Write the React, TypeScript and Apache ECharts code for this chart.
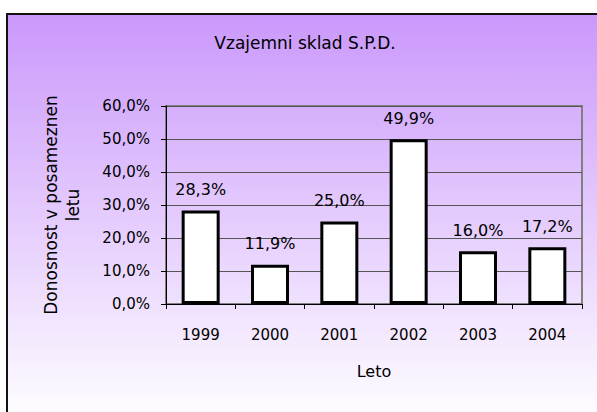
import React, { useEffect, useRef } from "react";
import * as echarts from "echarts";

const categories = ["1999", "2000", "2001", "2002", "2003", "2004"];
const returns = [0.283, 0.119, 0.25, 0.499, 0.16, 0.172];
const titleText = "Vzajemni sklad S.P.D.";
const yAxisName = "Donosnost v posameznen\nletu";
const xAxisName = "Leto";

const pct = (v: number) => (v * 100).toFixed(1).replace(".", ",") + "%";

export default function App() {
  const ref = useRef<HTMLDivElement>(null);
  useEffect(() => {
    if (!ref.current) return;
    const chart = echarts.init(ref.current, null, { renderer: "svg" });
    const font = "DejaVu Sans";
    chart.setOption({
      animation: false,
      textStyle: { fontFamily: font },
      graphic: [
        {
          type: "rect",
          z: -10,
          silent: true,
          shape: { x: 7, y: 14, width: 600, height: 410 },
          style: {
            fill: new echarts.graphic.LinearGradient(0, 0, 0, 1, [
              { offset: 0, color: "#CA98FB" },
              { offset: 1, color: "#FFFFFF" },
            ]),
            stroke: "#111",
            lineWidth: 2,
          },
        },
        {
          type: "text",
          x: 305,
          y: 43,
          style: {
            text: titleText,
            fontFamily: font,
            fontSize: 17,
            fill: "#000",
            textAlign: "center",
            textVerticalAlign: "middle",
          },
        },
      ],
      grid: {
        left: 166,
        top: 106,
        width: 416,
        height: 198,
        show: true,
        borderColor: "#808080",
        borderWidth: 2,
        backgroundColor: "transparent",
      },
      xAxis: {
        type: "category",
        data: categories,
        name: xAxisName,
        nameLocation: "middle",
        nameGap: 59,
        nameTextStyle: { fontSize: 16, color: "#000", fontFamily: font },
        axisLine: { lineStyle: { color: "#000", width: 1 } },
        axisTick: { show: true, length: 5, lineStyle: { color: "#000" } },
        axisLabel: { color: "#000", fontSize: 15, margin: 23, fontFamily: font },
      },
      yAxis: {
        type: "value",
        min: 0,
        max: 0.6,
        interval: 0.1,
        name: yAxisName,
        nameLocation: "middle",
        nameRotate: 90,
        nameGap: 82,
        nameTextStyle: { fontSize: 17, color: "#000", lineHeight: 22, fontFamily: font },
        axisLine: { show: true, lineStyle: { color: "#000", width: 1 } },
        axisTick: { show: true, length: 5, lineStyle: { color: "#000" } },
        axisLabel: {
          color: "#000",
          fontSize: 15,
          margin: 16,
          fontFamily: font,
          formatter: (v: number) => pct(v),
        },
        splitLine: { show: true, lineStyle: { color: "#555", width: 1 } },
      },
      series: [
        {
          type: "bar",
          data: returns,
          barWidth: 38,
          itemStyle: { color: "#fff", borderColor: "#000", borderWidth: 3 },
          label: {
            show: true,
            position: "top",
            distance: 13,
            color: "#000",
            fontSize: 16,
            fontFamily: font,
            formatter: (p: any) => pct(p.value),
          },
        },
      ],
    });
    return () => chart.dispose();
  }, []);
  return (
    <div
      ref={ref}
      style={{ position: "absolute", left: 0, top: 0, width: 597, height: 412 }}
    />
  );
}
